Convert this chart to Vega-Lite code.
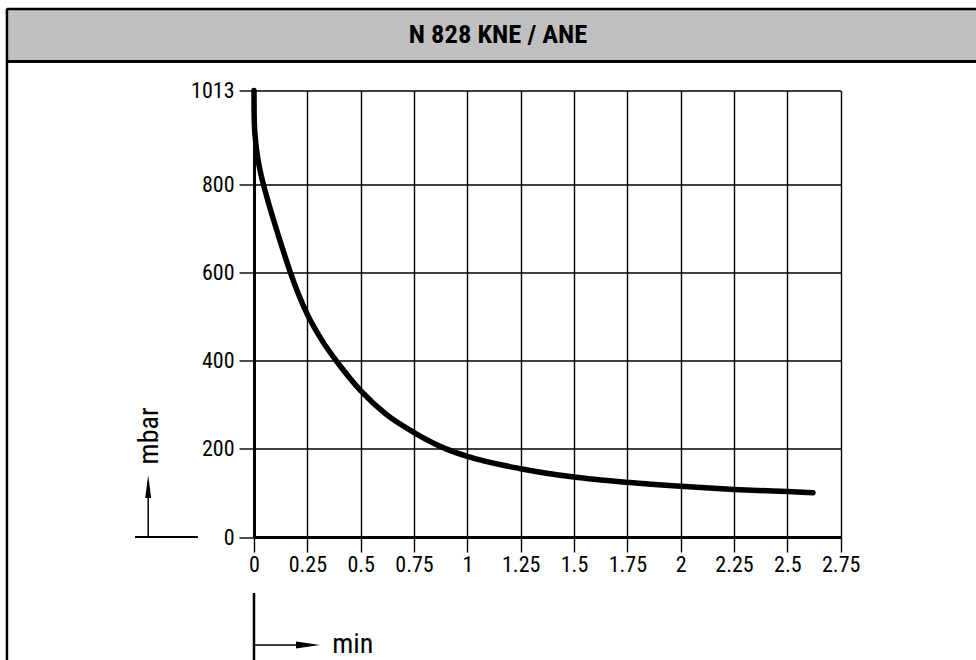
{
  "$schema": "https://vega.github.io/schema/vega-lite/v6.json",
  "width": 586.67,
  "height": 446.5,
  "autosize": {"type": "none"},
  "padding": {"left": 254, "top": 90.5, "right": 135.33, "bottom": 123},
  "background": "white",
  "data": {"values": [{}]},
  "config": {
    "view": {"stroke": null},
    "font": "Roboto Condensed, Liberation Sans Narrow, Roboto, sans-serif"
  },
  "layer": [
    {
      "mark": {"type": "rect", "fill": "#c0c0c0", "clip": false},
      "encoding": {
        "x": {"datum": -1.158},
        "x2": {"datum": 3.6},
        "y": {"datum": 1197.9},
        "y2": {"datum": 1078.8}
      }
    },
    {
      "mark": {"type": "rule", "color": "black", "strokeWidth": 2.5, "clip": false},
      "encoding": {
        "x": {"datum": -1.158},
        "x2": {"datum": 3.6},
        "y": {"datum": 1197.9}
      }
    },
    {
      "mark": {"type": "rule", "color": "black", "strokeWidth": 3, "clip": false},
      "encoding": {
        "x": {"datum": -1.158},
        "x2": {"datum": 3.6},
        "y": {"datum": 1078.8}
      }
    },
    {
      "mark": {"type": "rule", "color": "black", "strokeWidth": 2.5, "clip": false},
      "encoding": {
        "x": {"datum": -1.158},
        "y": {"datum": 1199},
        "y2": {"datum": -330}
      }
    },
    {
      "mark": {
        "type": "text",
        "text": "N 828 KNE / ANE",
        "font": "Roboto Condensed, Liberation Sans Narrow, Roboto, sans-serif",
        "fontWeight": "bold",
        "fontSize": 26.5,
        "align": "center",
        "baseline": "middle",
        "color": "black",
        "clip": false
      },
      "encoding": {
        "x": {"datum": 1.144},
        "y": {"datum": 1138.9}
      }
    },
    {
      "data": {
        "values": [
          {"t": 0, "p": 1013},
          {"t": 0.0005, "p": 965},
          {"t": 0.002, "p": 934},
          {"t": 0.006, "p": 906},
          {"t": 0.012, "p": 879},
          {"t": 0.02, "p": 853},
          {"t": 0.03, "p": 828},
          {"t": 0.044, "p": 800},
          {"t": 0.065, "p": 763},
          {"t": 0.09, "p": 722},
          {"t": 0.12, "p": 675},
          {"t": 0.15, "p": 630},
          {"t": 0.17, "p": 601},
          {"t": 0.21, "p": 549},
          {"t": 0.25, "p": 505},
          {"t": 0.32, "p": 445},
          {"t": 0.39, "p": 397},
          {"t": 0.5, "p": 332},
          {"t": 0.62, "p": 278},
          {"t": 0.75, "p": 237},
          {"t": 0.9, "p": 200},
          {"t": 1.0, "p": 183},
          {"t": 1.25, "p": 155},
          {"t": 1.5, "p": 136},
          {"t": 1.75, "p": 124},
          {"t": 2.0, "p": 115},
          {"t": 2.25, "p": 108},
          {"t": 2.5, "p": 103},
          {"t": 2.62, "p": 100.5}
        ]
      },
      "mark": {"type": "line", "color": "black", "strokeWidth": 5.5, "strokeCap": "round", "interpolate": "monotone", "clip": false},
      "encoding": {
        "x": {
          "field": "t",
          "type": "quantitative",
          "scale": {"domain": [0, 2.75], "nice": false, "zero": false},
          "axis": {
            "values": [0, 0.25, 0.5, 0.75, 1, 1.25, 1.5, 1.75, 2, 2.25, 2.5, 2.75],
            "labelExpr": "'' + datum.value",
            "grid": true,
            "gridColor": "black",
            "gridWidth": 1.4,
            "gridOpacity": 1,
            "domain": true,
            "domainColor": "black",
            "domainWidth": 3,
            "ticks": true,
            "tickColor": "black",
            "tickSize": 15,
            "tickWidth": 1.4,
            "labelFontSize": 22,
            "labelColor": "black",
            "labelPadding": 2,
            "labelFlush": false,
            "labelOverlap": false,
            "labelBound": false,
            "title": "min",
            "titleFontSize": 28,
            "titleFontWeight": "normal",
            "titleColor": "black",
            "titleX": 77.7,
            "titleY": 121,
            "titleAlign": "left",
            "titleBaseline": "bottom",
            "titleAngle": 0
          }
        },
        "y": {
          "field": "p",
          "type": "quantitative",
          "scale": {"domain": [0, 1013], "nice": false, "zero": false},
          "axis": {
            "values": [0, 200, 400, 600, 800, 1013],
            "labelExpr": "'' + datum.value",
            "grid": true,
            "gridColor": "black",
            "gridWidth": 1.4,
            "gridOpacity": 1,
            "domain": true,
            "domainColor": "black",
            "domainWidth": 3,
            "ticks": true,
            "tickColor": "black",
            "tickSize": 15,
            "tickWidth": 1.4,
            "labelFontSize": 22,
            "labelColor": "black",
            "labelPadding": 5,
            "labelFlush": false,
            "labelOverlap": false,
            "labelBound": false,
            "title": "mbar",
            "titleFontSize": 28,
            "titleFontWeight": "normal",
            "titleColor": "black",
            "titleAngle": 270,
            "titleX": -97,
            "titleY": 345,
            "titleAlign": "center",
            "titleBaseline": "alphabetic"
          }
        }
      }
    },
    {
      "mark": {"type": "rule", "color": "black", "strokeWidth": 2, "clip": false},
      "encoding": {
        "x": {"datum": -0.558},
        "x2": {"datum": -0.263},
        "y": {"datum": 0}
      }
    },
    {
      "mark": {"type": "rule", "color": "black", "strokeWidth": 1.5, "clip": false},
      "encoding": {
        "x": {"datum": -0.496},
        "y": {"datum": 0},
        "y2": {"datum": 125}
      }
    },
    {
      "mark": {"type": "point", "shape": "M0,-1L0.26,1L-0.26,1Z", "filled": true, "color": "black", "opacity": 1, "size": 529, "clip": false},
      "encoding": {
        "x": {"datum": -0.496},
        "y": {"datum": 114.6}
      }
    },
    {
      "mark": {"type": "rule", "color": "black", "strokeWidth": 2.5, "clip": false},
      "encoding": {
        "x": {"datum": 0},
        "y": {"datum": -127},
        "y2": {"datum": -330}
      }
    },
    {
      "mark": {"type": "rule", "color": "black", "strokeWidth": 1.5, "clip": false},
      "encoding": {
        "x": {"datum": 0},
        "x2": {"datum": 0.23},
        "y": {"datum": -245}
      }
    },
    {
      "mark": {"type": "point", "shape": "M1,0L-1,0.3L-1,-0.3Z", "filled": true, "color": "black", "opacity": 1, "size": 576, "clip": false},
      "encoding": {
        "x": {"datum": 0.253},
        "y": {"datum": -245}
      }
    }
  ]
}
